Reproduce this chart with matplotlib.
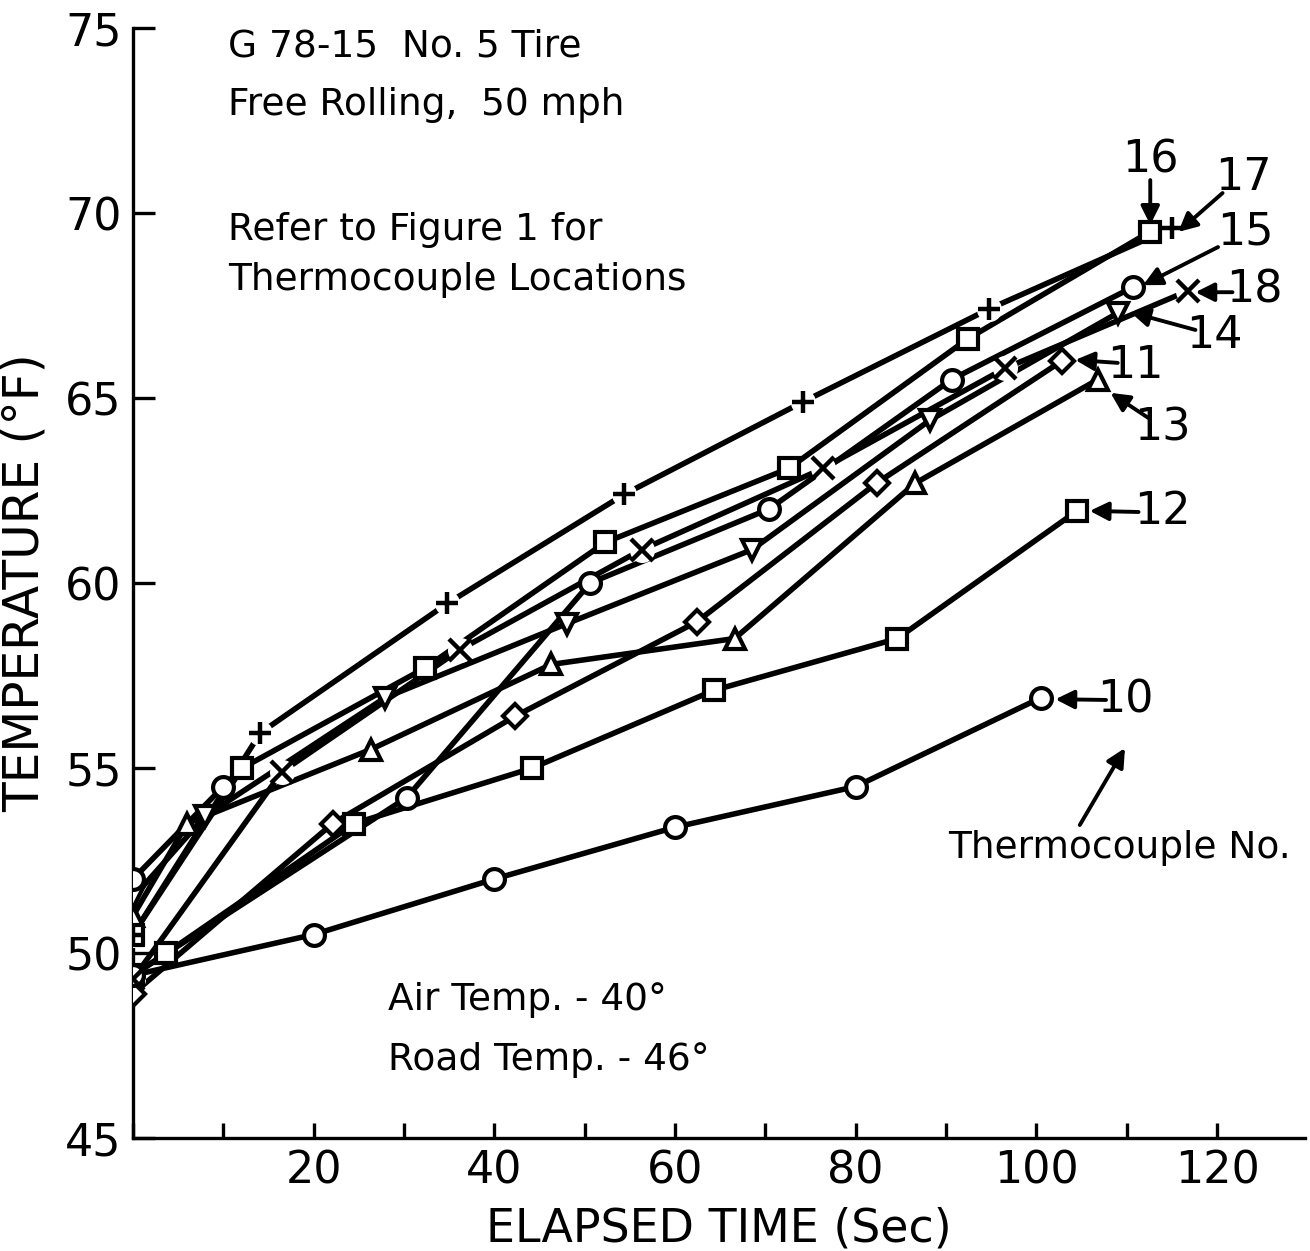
import matplotlib
matplotlib.use("Agg")
import matplotlib.pyplot as plt
from matplotlib.ticker import MultipleLocator

# thermocouple readings, elapsed time (sec) vs temperature (F)
t10 = [0, 20, 40, 60, 80, 100.5]
T10 = [49.4, 50.5, 52.0, 53.4, 54.5, 56.9]

t11 = [0, 22.1, 42.3, 62.4, 82.3, 102.8]
T11 = [48.9, 53.5, 56.4, 58.95, 62.7, 66.0]

t12 = [0, 3.7, 24.5, 44.2, 64.3, 84.6, 104.5]
T12 = [49.4, 50.0, 53.5, 55.0, 57.1, 58.5, 61.95]

t13 = [0, 6.0, 26.3, 46.3, 66.6, 86.6, 106.8]
T13 = [51.0, 53.5, 55.5, 57.8, 58.5, 62.7, 65.5]

t14 = [0, 8.0, 27.9, 48.0, 68.5, 88.2, 109.0]
T14 = [51.5, 53.7, 56.9, 58.9, 60.9, 64.4, 67.3]

t15 = [0, 30.3, 50.6, 70.4, 90.6, 110.7]
T15 = [49.4, 54.2, 60.0, 62.0, 65.5, 68.0]
# early readings of no. 15
t15_early = [0, 10.0]
T15_early = [52.0, 54.5]

t16 = [0, 12.1, 32.3, 52.3, 72.6, 92.4, 112.6]
T16 = [50.5, 55.0, 57.7, 61.1, 63.1, 66.6, 69.5]

t17 = [0, 14.1, 34.8, 54.4, 74.2, 94.7, 115.0]
T17 = [50.5, 55.95, 59.45, 62.4, 64.9, 67.4, 69.6]

t18 = [0, 16.5, 36.2, 56.3, 76.4, 96.5, 116.8]
T18 = [49.3, 54.9, 58.2, 60.9, 63.1, 65.8, 67.9]

series = [
    (t10, T10, "o"), (t11, T11, "D"), (t12, T12, "s"),
    (t13, T13, "^"), (t14, T14, "v"), (t15, T15, "o"),
    (t15_early, T15_early, "o"),
    (t16, T16, "s"), (t17, T17, "+"), (t18, T18, "x"),
]

# tag text, tag position, arrow tail, arrow head
tags = [
    ("16", (112.6, 71.43), (112.6, 70.89), (112.6, 69.68)),
    ("17", (122.9, 70.95), (120.6, 70.54), (115.7, 69.49)),
    ("15", (123.1, 69.49), (120.1, 69.08), (111.8, 68.05)),
    ("18", (124.1, 67.92), (121.7, 67.86), (117.6, 67.86)),
    ("14", (119.7, 66.68), (117.6, 66.84), (110.4, 67.32)),
    ("11", (111.0, 65.89), (109.0, 65.95), (104.3, 66.03)),
    ("13", (113.9, 64.19), (112.4, 64.46), (108.2, 65.14)),
    ("12", (113.9, 61.92), (111.3, 61.92), (105.9, 61.95)),
    ("10", (109.8, 56.84), (107.7, 56.84), (102.1, 56.86)),
]

plt.rcParams["font.family"] = ["DejaVu Sans"]

fig = plt.figure(figsize=(13.1, 12.51), dpi=100)
ax = fig.add_axes([0.1015, 0.0903, 0.8945, 0.8873])

for t, T, m in series:
    ax.plot(t, T, "-", color="black", lw=4.0, zorder=2, solid_capstyle="butt")
    if m in ("+", "x"):
        # white patch under the cross so the line breaks around it
        ax.plot(t, T, "o", ms=17, mfc="white", mec="white", zorder=3)
        ax.plot(t, T, m, ms=16, mew=3.2, color="black", zorder=4)
    else:
        ms = 12 if m == "D" else 15
        ax.plot(t, T, m, ms=ms, mfc="white", mec="black", mew=3.0, zorder=4)

for txt, pos, tail, head in tags:
    ax.text(pos[0], pos[1], txt, fontsize=32, ha="center", va="center")
    ax.annotate("", xy=head, xytext=tail,
                arrowprops=dict(arrowstyle="-|>", lw=2.8, color="black",
                                mutation_scale=28, shrinkA=0, shrinkB=0))

ax.text(90.2, 52.84, "Thermocouple No.", fontsize=27, ha="left", va="center")
ax.annotate("", xy=(109.8, 55.54), xytext=(104.8, 53.46),
            arrowprops=dict(arrowstyle="-|>", lw=2.8, color="black",
                            mutation_scale=28, shrinkA=0, shrinkB=0))

ax.text(10.5, 74.49, "G 78-15  No. 5 Tire", fontsize=27, ha="left", va="center")
ax.text(10.5, 72.92, "Free Rolling,  50 mph", fontsize=27, ha="left", va="center")
ax.text(10.5, 69.54, "Refer to Figure 1 for", fontsize=27, ha="left", va="center")
ax.text(10.5, 68.19, "Thermocouple Locations", fontsize=27, ha="left", va="center")
ax.text(28.2, 48.73, "Air Temp. - 40°", fontsize=27, ha="left", va="center")
ax.text(28.2, 47.10, "Road Temp. - 46°", fontsize=27, ha="left", va="center")

ax.set_xlim(0, 129.7)
ax.set_ylim(45, 75)
ax.xaxis.set_major_locator(MultipleLocator(20))
ax.xaxis.set_minor_locator(MultipleLocator(10))
ax.yaxis.set_major_locator(MultipleLocator(5))
ax.set_xticks([20, 40, 60, 80, 100, 120])

for s in ("top", "right"):
    ax.spines[s].set_visible(False)
for s in ("left", "bottom"):
    ax.spines[s].set_linewidth(2.4)

ax.tick_params(axis="y", which="major", direction="in", length=16, width=2.4,
               labelsize=32, pad=8)
ax.tick_params(axis="x", which="both", direction="in", length=11, width=2.4,
               labelsize=32, pad=8)

ax.set_xlabel("ELAPSED TIME (Sec)", fontsize=33, labelpad=10)
ax.set_ylabel("TEMPERATURE (°F)", fontsize=35, labelpad=12)

plt.savefig("out.png", dpi=100)
